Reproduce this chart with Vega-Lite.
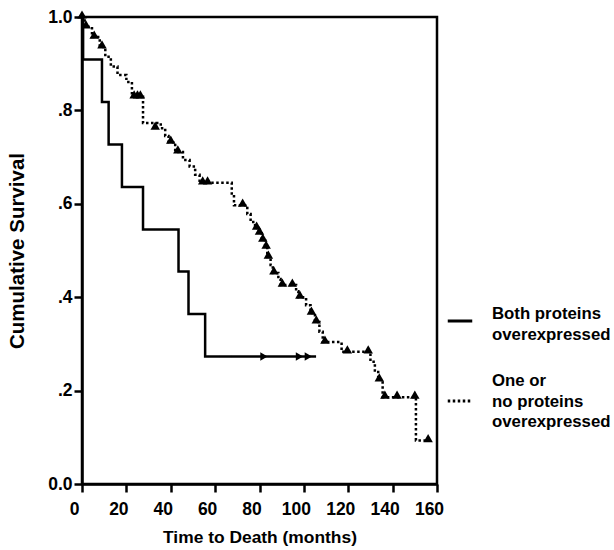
{
  "$schema": "https://vega.github.io/schema/vega-lite/v6.json",
  "autosize": {"type": "none"},
  "padding": {"left": 82, "top": 17, "right": 177, "bottom": 66},
  "width": 355,
  "height": 467,
  "background": "white",
  "config": {
    "view": {"stroke": "black", "strokeWidth": 2.5},
    "font": "Liberation Sans",
    "style": {"guide-label": {"lineHeight": 20.5}},
    "axis": {
      "grid": false,
      "domainColor": "black",
      "domainWidth": 2.5,
      "tickColor": "black",
      "tickWidth": 2.5,
      "tickSize": 8,
      "labelFont": "Liberation Sans",
      "labelFontWeight": "bold",
      "labelFontSize": 17.5,
      "labelColor": "black",
      "labelFlush": false,
      "titleFont": "Liberation Sans",
      "titleFontWeight": "bold",
      "titleFontSize": 17.4,
      "titleColor": "black"
    }
  },
  "datasets": {
    "curve": [
      {"group": "Both proteins overexpressed", "t": 0, "s": 1.0},
      {"group": "Both proteins overexpressed", "t": 0.5, "s": 0.909},
      {"group": "Both proteins overexpressed", "t": 9, "s": 0.818},
      {"group": "Both proteins overexpressed", "t": 12, "s": 0.727},
      {"group": "Both proteins overexpressed", "t": 18, "s": 0.636},
      {"group": "Both proteins overexpressed", "t": 27.5, "s": 0.545},
      {"group": "Both proteins overexpressed", "t": 43.5, "s": 0.455},
      {"group": "Both proteins overexpressed", "t": 48, "s": 0.364},
      {"group": "Both proteins overexpressed", "t": 55.5, "s": 0.273},
      {"group": "Both proteins overexpressed", "t": 105.5, "s": 0.273},
      {"group": "One or no proteins overexpressed", "t": 0, "s": 1.0},
      {"group": "One or no proteins overexpressed", "t": 1.2, "s": 0.979},
      {"group": "One or no proteins overexpressed", "t": 4.5, "s": 0.957},
      {"group": "One or no proteins overexpressed", "t": 8, "s": 0.936},
      {"group": "One or no proteins overexpressed", "t": 10.5, "s": 0.915},
      {"group": "One or no proteins overexpressed", "t": 13, "s": 0.894},
      {"group": "One or no proteins overexpressed", "t": 16, "s": 0.876},
      {"group": "One or no proteins overexpressed", "t": 20, "s": 0.861},
      {"group": "One or no proteins overexpressed", "t": 22.5, "s": 0.829},
      {"group": "One or no proteins overexpressed", "t": 27.5, "s": 0.773},
      {"group": "One or no proteins overexpressed", "t": 35.5, "s": 0.762},
      {"group": "One or no proteins overexpressed", "t": 37.5, "s": 0.745},
      {"group": "One or no proteins overexpressed", "t": 39, "s": 0.732},
      {"group": "One or no proteins overexpressed", "t": 42, "s": 0.711},
      {"group": "One or no proteins overexpressed", "t": 45.5, "s": 0.694},
      {"group": "One or no proteins overexpressed", "t": 48.5, "s": 0.68},
      {"group": "One or no proteins overexpressed", "t": 51, "s": 0.662},
      {"group": "One or no proteins overexpressed", "t": 53, "s": 0.645},
      {"group": "One or no proteins overexpressed", "t": 67.5, "s": 0.622},
      {"group": "One or no proteins overexpressed", "t": 68.5, "s": 0.597},
      {"group": "One or no proteins overexpressed", "t": 74.5, "s": 0.578},
      {"group": "One or no proteins overexpressed", "t": 76, "s": 0.561},
      {"group": "One or no proteins overexpressed", "t": 78, "s": 0.548},
      {"group": "One or no proteins overexpressed", "t": 79.5, "s": 0.537},
      {"group": "One or no proteins overexpressed", "t": 81, "s": 0.522},
      {"group": "One or no proteins overexpressed", "t": 82.5, "s": 0.507},
      {"group": "One or no proteins overexpressed", "t": 83.5, "s": 0.486},
      {"group": "One or no proteins overexpressed", "t": 85, "s": 0.469},
      {"group": "One or no proteins overexpressed", "t": 86, "s": 0.452},
      {"group": "One or no proteins overexpressed", "t": 88.5, "s": 0.439},
      {"group": "One or no proteins overexpressed", "t": 89.5, "s": 0.426},
      {"group": "One or no proteins overexpressed", "t": 96.5, "s": 0.413},
      {"group": "One or no proteins overexpressed", "t": 97.5, "s": 0.4},
      {"group": "One or no proteins overexpressed", "t": 101, "s": 0.383},
      {"group": "One or no proteins overexpressed", "t": 103, "s": 0.366},
      {"group": "One or no proteins overexpressed", "t": 105, "s": 0.347},
      {"group": "One or no proteins overexpressed", "t": 107, "s": 0.326},
      {"group": "One or no proteins overexpressed", "t": 108.5, "s": 0.304},
      {"group": "One or no proteins overexpressed", "t": 117, "s": 0.283},
      {"group": "One or no proteins overexpressed", "t": 130, "s": 0.262},
      {"group": "One or no proteins overexpressed", "t": 132, "s": 0.243},
      {"group": "One or no proteins overexpressed", "t": 133.5, "s": 0.223},
      {"group": "One or no proteins overexpressed", "t": 135.5, "s": 0.186},
      {"group": "One or no proteins overexpressed", "t": 150.5, "s": 0.093},
      {"group": "One or no proteins overexpressed", "t": 157, "s": 0.093}
    ],
    "censorBoth": [
      {"t": 82, "s": 0.273},
      {"t": 98, "s": 0.273},
      {"t": 102, "s": 0.273}
    ],
    "censorOne": [
      {"t": 0, "s": 1.0},
      {"t": 1.8, "s": 0.979},
      {"t": 5.5, "s": 0.957},
      {"t": 9, "s": 0.936},
      {"t": 23.5, "s": 0.829},
      {"t": 25, "s": 0.829},
      {"t": 26.3, "s": 0.829},
      {"t": 33, "s": 0.762},
      {"t": 40, "s": 0.732},
      {"t": 43.2, "s": 0.711},
      {"t": 54.4, "s": 0.645},
      {"t": 56.6, "s": 0.645},
      {"t": 72.4, "s": 0.597},
      {"t": 78.7, "s": 0.548},
      {"t": 80, "s": 0.537},
      {"t": 81.5, "s": 0.522},
      {"t": 83, "s": 0.507},
      {"t": 84, "s": 0.486},
      {"t": 86.5, "s": 0.452},
      {"t": 90.3, "s": 0.426},
      {"t": 94.8, "s": 0.426},
      {"t": 98.2, "s": 0.4},
      {"t": 103.4, "s": 0.366},
      {"t": 105.6, "s": 0.347},
      {"t": 109.5, "s": 0.304},
      {"t": 119.6, "s": 0.283},
      {"t": 129, "s": 0.283},
      {"t": 134, "s": 0.223},
      {"t": 136.5, "s": 0.186},
      {"t": 142, "s": 0.186},
      {"t": 150, "s": 0.186},
      {"t": 156, "s": 0.093}
    ]
  },
  "layer": [
    {
      "data": {"name": "curve"},
      "mark": {"type": "line", "interpolate": "step-after", "color": "black", "strokeWidth": 2.5, "strokeCap": "butt", "clip": false},
      "encoding": {
        "x": {
          "field": "t", "type": "quantitative",
          "scale": {"domain": [0, 160], "nice": false, "zero": false},
          "axis": {"values": [0, 20, 40, 60, 80, 100, 120, 140, 160], "title": "Time to Death (months)", "labelPadding": 8, "labelOffset": -8, "titlePadding": 11}
        },
        "y": {
          "field": "s", "type": "quantitative",
          "scale": {"domain": [0, 1], "nice": false},
          "axis": {
            "values": [0, 0.2, 0.4, 0.6, 0.8, 1.0],
            "labelExpr": "datum.value == 0 ? '0.0' : datum.value == 1 ? '1.0' : replace(format(datum.value, '.1f'), '0.', '.')",
            "title": "Cumulative Survival",
            "titleFontSize": 20.5,
            "labelPadding": 2,
            "titlePadding": 20
          }
        },
        "detail": {"field": "group"},
        "strokeDash": {
          "field": "group", "type": "nominal",
          "scale": {"domain": ["Both proteins overexpressed", "One or no proteins overexpressed"], "range": [[1, 0], [2.5, 2.5]]},
          "legend": {
            "orient": "none",
            "legendX": 364,
            "legendY": 290,
            "title": null,
            "symbolType": "stroke",
            "symbolSize": 600,
            "symbolStrokeWidth": 3,
            "symbolStrokeColor": "black",
            "labelFont": "Liberation Sans",
            "labelFontWeight": "bold",
            "labelFontSize": 16.8,
            "labelColor": "black",
            "labelOffset": 18,
            "labelLimit": 200,
            "rowPadding": 29,
            "labelExpr": "datum.value == 'Both proteins overexpressed' ? ['Both proteins', 'overexpressed'] : ['One or', 'no proteins', 'overexpressed']",
            "encode": {
              "labels": {
                "update": {
                  "dy": {"signal": "datum.value == 'Both proteins overexpressed' ? -7 : -20"}
                }
              }
            }
          }
        }
      }
    },
    {
      "data": {"name": "censorBoth"},
      "mark": {"type": "point", "shape": "triangle-right", "filled": true, "color": "black", "opacity": 1, "size": 70, "clip": false},
      "encoding": {
        "x": {"field": "t", "type": "quantitative"},
        "y": {"field": "s", "type": "quantitative"}
      }
    },
    {
      "data": {"name": "censorOne"},
      "mark": {"type": "point", "shape": "triangle-up", "filled": true, "color": "black", "opacity": 1, "size": 90, "yOffset": -2.5, "clip": false},
      "encoding": {
        "x": {"field": "t", "type": "quantitative"},
        "y": {"field": "s", "type": "quantitative"}
      }
    }
  ]
}
